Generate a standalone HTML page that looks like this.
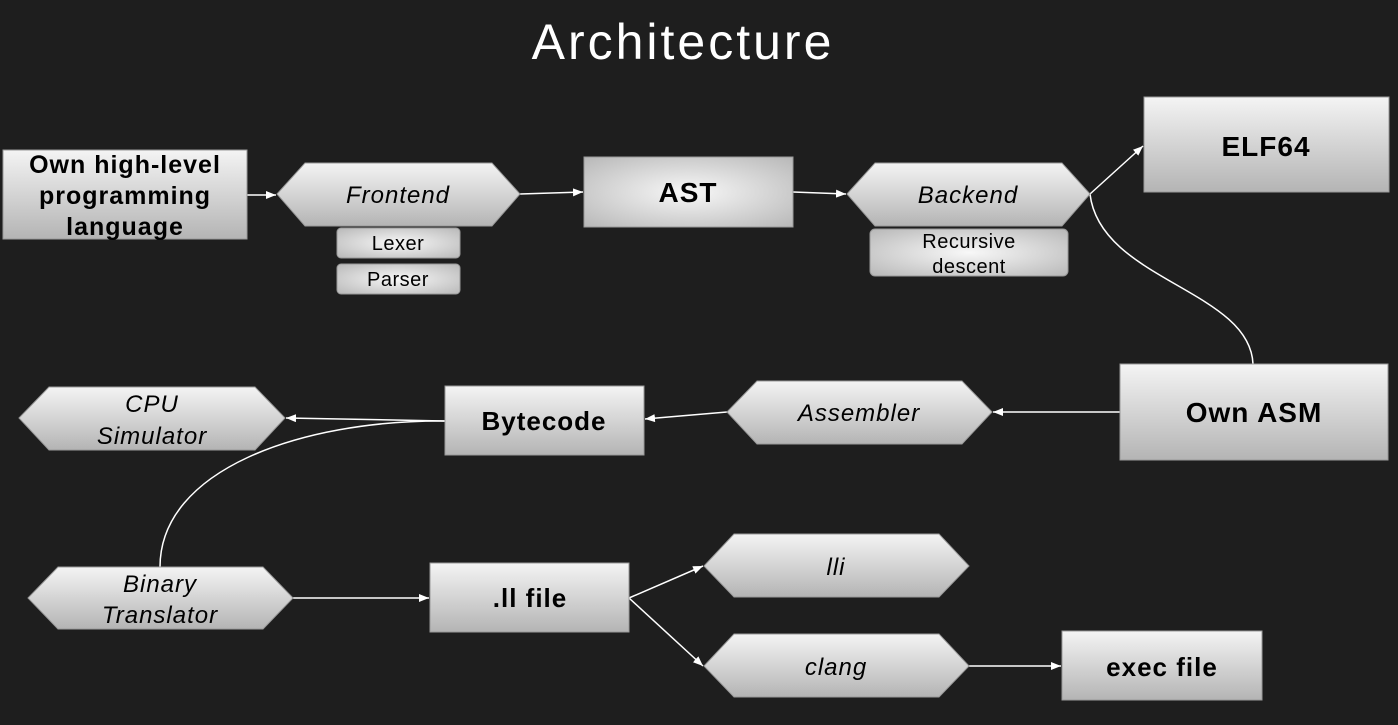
<!DOCTYPE html>
<html><head><meta charset="utf-8"><style>
html,body{margin:0;padding:0;background:#1e1e1e;}
svg{display:block;font-family:"Liberation Sans",sans-serif;}
</style></head><body>
<svg width="1398" height="725" viewBox="0 0 1398 725" xmlns="http://www.w3.org/2000/svg">
<defs>
<linearGradient id="g" x1="0" y1="0" x2="0" y2="1"><stop offset="0" stop-color="#f4f4f4"/><stop offset="1" stop-color="#b4b4b4"/></linearGradient>
<radialGradient id="r" cx="0.5" cy="0.5" r="0.7"><stop offset="0" stop-color="#f8f8f8"/><stop offset="1" stop-color="#b8b8b8"/></radialGradient>
<marker id="a" markerWidth="10" markerHeight="8" refX="10" refY="4" orient="auto" markerUnits="userSpaceOnUse"><path d="M0,0 L10,4 L0,8 z" fill="#fff"/></marker>
</defs>
<rect width="1398" height="725" fill="#1e1e1e"/>
<text x="683" y="59" font-size="50" fill="#fff" text-anchor="middle" letter-spacing="3">Architecture</text>

<g stroke="#fff" stroke-width="1.5" fill="none">
<line x1="247" y1="195" x2="276" y2="195" marker-end="url(#a)"/>
<line x1="520" y1="194" x2="583" y2="192" marker-end="url(#a)"/>
<line x1="793" y1="192" x2="846" y2="194" marker-end="url(#a)"/>
<line x1="1090" y1="194" x2="1143" y2="146" marker-end="url(#a)"/>
<path d="M1090,194 C1100,280 1250,290 1253,364"/>
<line x1="1120" y1="412" x2="993" y2="412" marker-end="url(#a)"/>
<line x1="727" y1="412" x2="645" y2="419" marker-end="url(#a)"/>
<line x1="445" y1="421" x2="286" y2="418" marker-end="url(#a)"/>
<path d="M445,421 C300,420 160,470 160,567"/>
<line x1="293" y1="598" x2="429" y2="598" marker-end="url(#a)"/>
<line x1="629" y1="598" x2="703" y2="566" marker-end="url(#a)"/>
<line x1="629" y1="598" x2="703" y2="666" marker-end="url(#a)"/>
<line x1="969" y1="666" x2="1061" y2="666" marker-end="url(#a)"/>
</g>

<g stroke="#999" stroke-width="1">
<rect x="3" y="150" width="244" height="89" fill="url(#g)"/>
<polygon points="277,194 305,163 492,163 520,194 492,226 305,226" fill="url(#g)"/>
<rect x="337" y="228" width="123" height="30" rx="4" fill="url(#r)"/>
<rect x="337" y="264" width="123" height="30" rx="4" fill="url(#r)"/>
<rect x="584" y="157" width="209" height="70" fill="url(#r)"/>
<polygon points="847,194 875,163 1062,163 1090,194 1062,226 875,226" fill="url(#g)"/>
<rect x="870" y="229" width="198" height="47" rx="5" fill="url(#r)"/>
<rect x="1144" y="97" width="245" height="95" fill="url(#g)"/>
<rect x="1120" y="364" width="268" height="96" fill="url(#g)"/>
<polygon points="727,412 757,381 962,381 992,412 962,444 757,444" fill="url(#g)"/>
<rect x="445" y="386" width="199" height="69" fill="url(#g)"/>
<polygon points="19,418 49,387 255,387 285,418 255,450 49,450" fill="url(#g)"/>
<polygon points="28,598 58,567 263,567 293,598 263,629 58,629" fill="url(#g)"/>
<rect x="430" y="563" width="199" height="69" fill="url(#g)"/>
<polygon points="704,566 734,534 939,534 969,566 939,597 734,597" fill="url(#g)"/>
<polygon points="704,666 734,634 939,634 969,666 939,697 734,697" fill="url(#g)"/>
<rect x="1062" y="631" width="200" height="69" fill="url(#g)"/>
</g>

<g fill="#000" text-anchor="middle">
<g font-weight="bold" font-size="25" letter-spacing="1">
<text x="125" y="173">Own high-level</text>
<text x="125" y="204">programming</text>
<text x="125" y="235">language</text>
<text x="688" y="202" font-size="28">AST</text>
<text x="1266" y="156" font-size="28">ELF64</text>
<text x="1254" y="422" font-size="28">Own ASM</text>
<text x="544" y="430" font-size="26">Bytecode</text>
<text x="530" y="607" font-size="26">.ll file</text>
<text x="1162" y="676" font-size="26">exec file</text>
</g>
<g font-style="italic" font-size="24" letter-spacing="1">
<text x="398" y="203">Frontend</text>
<text x="968" y="203">Backend</text>
<text x="859" y="421">Assembler</text>
<text x="152" y="412">CPU</text>
<text x="152" y="444">Simulator</text>
<text x="160" y="592">Binary</text>
<text x="160" y="623">Translator</text>
<text x="836" y="575">lli</text>
<text x="836" y="675">clang</text>
</g>
<g font-size="20" letter-spacing="0.5">
<text x="398" y="250">Lexer</text>
<text x="398" y="286">Parser</text>
<text x="969" y="248">Recursive</text>
<text x="969" y="273">descent</text>
</g>
</g>
</svg>
</body></html>
